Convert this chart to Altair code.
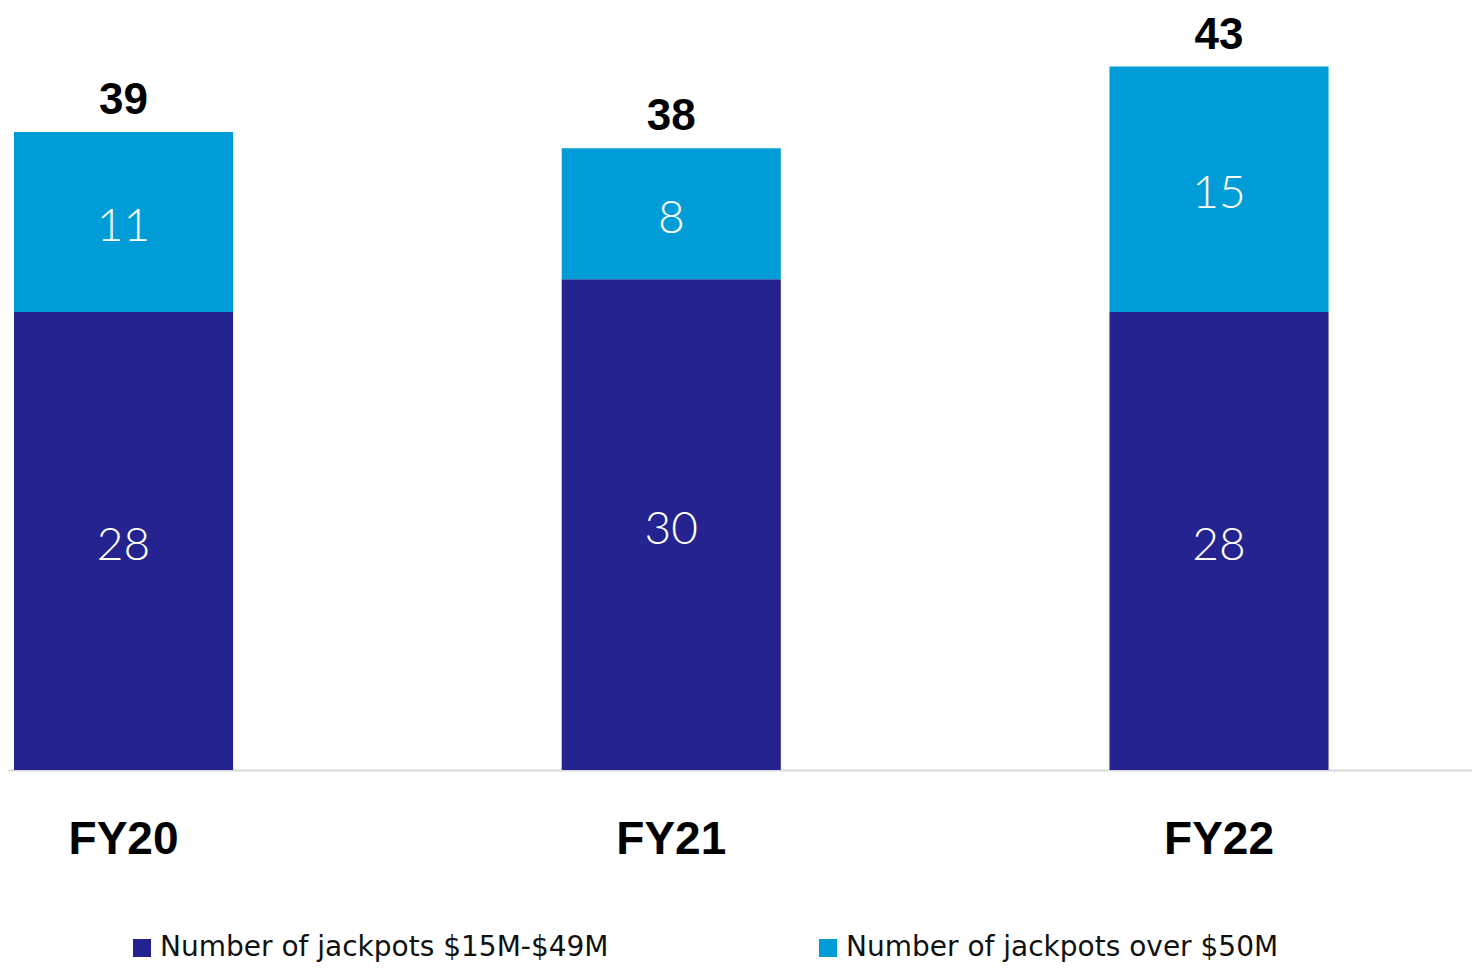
import altair as alt
import pandas as pd

years = ["FY20", "FY21", "FY22"]
series = ["Number of jackpots $15M-$49M", "Number of jackpots over $50M"]
below_50 = [28, 30, 28]
over_50 = [11, 8, 15]
totals = [39, 38, 43]
colors = ["#24238F", "#009CD7"]

rows = []
for i, y in enumerate(years):
    rows.append({"year": y, "series": series[0], "value": below_50[i], "ord": 0})
    rows.append({"year": y, "series": series[1], "value": over_50[i], "ord": 1})
df = pd.DataFrame(rows)
tot = pd.DataFrame({"year": years, "total": totals})

W, H = 1464, 762
x_enc = alt.X(
    "year:N",
    sort=years,
    scale=alt.Scale(paddingInner=0.6, paddingOuter=0.1364, align=0.04),
    axis=alt.Axis(
        title=None, ticks=False, domainColor="#d9d9d9", domainWidth=2,
        labelFont="Liberation Sans", labelFontWeight="bold", labelFontSize=46,
        labelColor="#000000", labelPadding=47, labelAngle=0,
    ),
)
y_scale = alt.Scale(domain=[0, 46.58], nice=False, zero=True)

base = alt.Chart(df).transform_stack(
    stack="value", groupby=["year"], as_=["v0", "v1"],
    sort=[alt.SortField("ord", order="ascending")],
).transform_calculate(mid="(datum.v0 + datum.v1) / 2")

bars = base.mark_bar().encode(
    x=x_enc,
    y=alt.Y("v0:Q", scale=y_scale, axis=None),
    y2="v1:Q",
    color=alt.Color(
        "series:N",
        scale=alt.Scale(domain=series, range=colors),
        legend=alt.Legend(
            title=None, orient="none", direction="horizontal",
            legendX=120, legendY=926, padding=0, offset=0,
            symbolType="square", symbolSize=324, symbolStrokeWidth=0,
            symbolOpacity=1, labelFont="DejaVu Sans", labelFontSize=28,
            labelColor="#111111", labelOffset=4, columnPadding=205,
            labelLimit=600,
        ),
    ),
)

seg_text = base.mark_text(
    color="white", font="Lato", fontWeight=300, fontSize=46,
    baseline="middle", dy=5,
).encode(
    x=alt.X("year:N", sort=years),
    y=alt.Y("mid:Q", scale=y_scale),
    text=alt.Text("value:Q"),
)

tot_text = alt.Chart(tot).mark_text(
    color="black", font="Liberation Sans", fontWeight="bold", fontSize=44,
    baseline="alphabetic", dy=-18,
).encode(
    x=alt.X("year:N", sort=years),
    y=alt.Y("total:Q", scale=y_scale),
    text=alt.Text("total:Q"),
)

chart = alt.layer(bars, seg_text, tot_text).properties(
    width=W, height=H,
    padding={"left": 0, "top": 0, "right": 0, "bottom": 5},
).configure_view(stroke=None)

chart.save("out.html", embed_options={"renderer": "svg", "actions": False})
